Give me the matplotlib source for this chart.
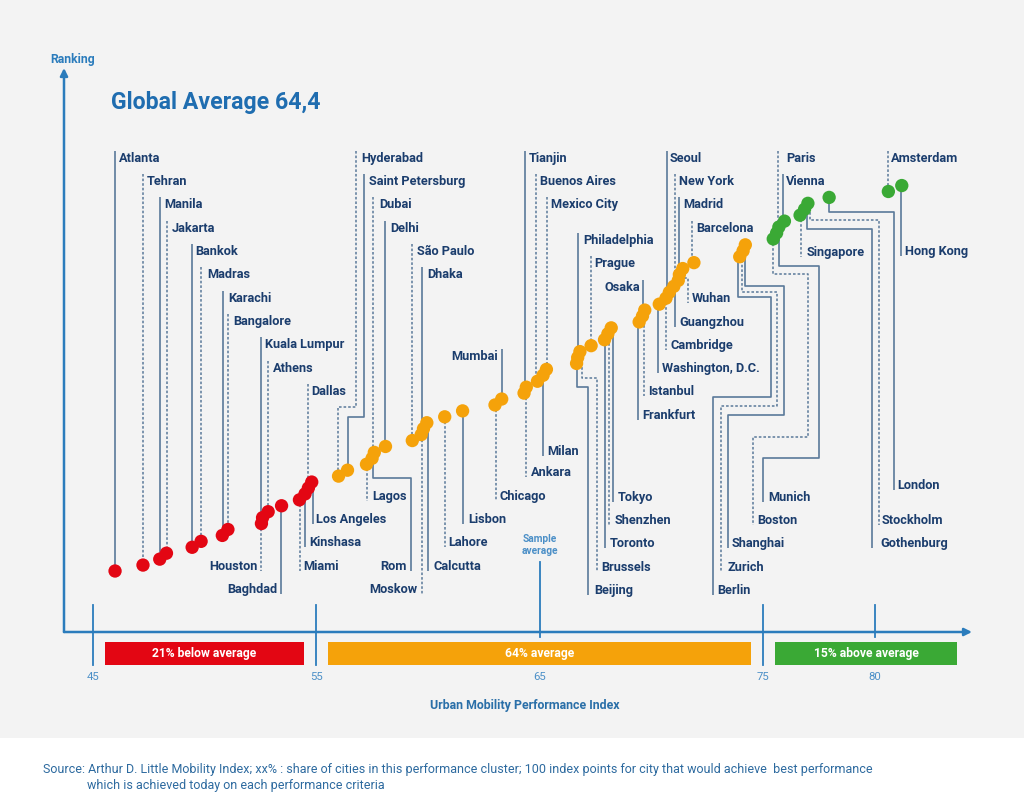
import numpy as np
import matplotlib
matplotlib.use("Agg")
import matplotlib.pyplot as plt
from matplotlib import font_manager as fm
from matplotlib.patches import Rectangle

# ---------------- data ----------------
cities = ["Atlanta", "Tehran", "Manila", "Jakarta", "Bankok", "Madras", "Karachi", "Bangalore",
          "Houston", "Kuala Lumpur", "Athens", "Baghdad", "Miami", "Kinshasa", "Los Angeles", "Dallas",
          "Hyderabad", "Saint Petersburg", "Lagos", "Rom", "Dubai", "Delhi", "São Paulo", "Moskow",
          "Dhaka", "Calcutta", "Lahore", "Lisbon", "Chicago", "Mumbai", "Ankara", "Tianjin",
          "Buenos Aires", "Milan", "Mexico City", "Beijing", "Brussels", "Philadelphia", "Prague",
          "Toronto", "Shenzhen", "Tokyo", "Frankfurt", "Istanbul", "Osaka", "Washington, D.C.",
          "Cambridge", "Seoul", "Guangzhou", "Wuhan", "New York", "Madrid", "Barcelona",
          "Berlin", "Zurich", "Shanghai",
          "Boston", "Munich", "Paris", "Vienna", "Singapore", "Gothenburg", "Stockholm", "London",
          "Amsterdam", "Hong Kong"]
scores = [46.0, 47.25, 48.0, 48.3, 49.45, 49.85, 50.8, 51.05,
          52.55, 52.6, 52.85, 53.45, 54.25, 54.5, 54.65, 54.8,
          56.0, 56.4, 57.25, 57.5, 57.6, 58.1, 59.3, 59.7,
          59.8, 59.95, 60.75, 61.55, 63.0, 63.3, 64.3, 64.4,
          64.9, 65.15, 65.3, 66.65, 66.7, 66.8, 67.3,
          67.9, 68.05, 68.2, 69.45, 69.6, 69.7, 70.35,
          70.65, 70.8, 71.0, 71.2, 71.25, 71.4, 71.9,
          73.95, 74.1, 74.2,
          75.45, 75.6, 75.7, 75.95, 76.65, 76.85, 77.0, 77.95,
          80.6, 81.2]
ranks = np.arange(1, len(cities) + 1)

cluster_edges = [45, 55, 75, 84.2]
cluster_labels = ["21% below average", "64% average", "15% above average"]
cluster_colors = ["#e30613", "#f5a20a", "#3aa935"]
tick_values = [45, 55, 65, 75, 80]
tick_labels = ["45", "55", "65", "75", "80"]
sample_average = 65
title_text = "Global Average 64,4"
source_lines = ["Source: Arthur D. Little Mobility Index; xx% : share of cities in this performance cluster; "
                "100 index points for city that would achieve  best performance",
                "which is achieved today on each performance criteria"]

# ---------------- layout (pixel grid of the 1024x797 canvas) ----------------
# side ('T' label above dot / 'B' below), line style, text x, text y, ha, corner points
S, D = "-", ":"
N = None
LAYOUT = {
    "Atlanta": ("T", S, 119, 157, "left", [(115, N)]),
    "Tehran": ("T", D, 147, 180, "left", [(143, N)]),
    "Manila": ("T", S, 164, 203, "left", [(160, N)]),
    "Jakarta": ("T", D, 172, 227, "left", [(167, N)]),
    "Bankok": ("T", S, 195, 250, "left", [(192, N)]),
    "Madras": ("T", D, 207, 273, "left", [(201, N)]),
    "Karachi": ("T", S, 228, 297, "left", [(223, N)]),
    "Bangalore": ("T", D, 233, 320, "left", [(228, N)]),
    "Houston": ("B", D, 258, 565, "right", [(261, N)]),
    "Kuala Lumpur": ("T", S, 265, 343, "left", [(261, N)]),
    "Athens": ("T", D, 273, 367, "left", [(268, N)]),
    "Baghdad": ("B", S, 277, 588, "right", [(281, N)]),
    "Miami": ("B", D, 303, 565, "left", [(300, N)]),
    "Kinshasa": ("B", S, 309, 541, "left", [(305, N)]),
    "Los Angeles": ("B", S, 316, 518, "left", [(313, N)]),
    "Dallas": ("T", D, 311, 390, "left", [(308, N)]),
    "Hyderabad": ("T", D, 361, 157, "left", [(356, 407), (338, 407)]),
    "Saint Petersburg": ("T", S, 369, 180, "left", [(364, 417), (348, 417)]),
    "Lagos": ("B", D, 372, 495, "left", [(367, N)]),
    "Rom": ("B", S, 407, 565, "right", [(373, 478), (411, 478)]),
    "Dubai": ("T", D, 379, 203, "left", [(373, N)]),
    "Delhi": ("T", S, 390, 227, "left", [(385, N)]),
    "São Paulo": ("T", D, 417, 250, "left", [(412, N)]),
    "Moskow": ("B", D, 417, 588, "right", [(422, N)]),
    "Dhaka": ("T", S, 427, 273, "left", [(422, N)]),
    "Calcutta": ("B", S, 433, 565, "left", [(428, N)]),
    "Lahore": ("B", D, 448, 541, "left", [(445, N)]),
    "Lisbon": ("B", S, 468, 518, "left", [(463, N)]),
    "Chicago": ("B", D, 500, 495, "left", [(496, N)]),
    "Mumbai": ("T", S, 498, 355, "right", [(502, N)]),
    "Ankara": ("B", D, 531, 471, "left", [(526, N)]),
    "Tianjin": ("T", S, 529, 157, "left", [(525, N)]),
    "Buenos Aires": ("T", D, 540, 180, "left", [(536, N)]),
    "Milan": ("B", S, 547, 450, "left", [(543, N)]),
    "Mexico City": ("T", D, 551, 203, "left", [(547, N)]),
    "Beijing": ("B", S, 594, 589, "left", [(577, 387), (588, 387)]),
    "Brussels": ("B", D, 601, 566, "left", [(582, 378), (597, 378)]),
    "Philadelphia": ("T", S, 583, 239, "left", [(578, N)]),
    "Prague": ("T", D, 594, 262, "left", [(591, N)]),
    "Toronto": ("B", S, 610, 542, "left", [(605, N)]),
    "Shenzhen": ("B", D, 615, 519, "left", [(609, N)]),
    "Tokyo": ("B", S, 618, 496, "left", [(613, N)]),
    "Frankfurt": ("B", S, 642, 414, "left", [(638, N)]),
    "Istanbul": ("B", D, 648, 390, "left", [(644, N)]),
    "Osaka": ("T", S, 640, 286, "right", [(643, N)]),
    "Washington, D.C.": ("B", S, 662, 367, "left", [(658, N)]),
    "Cambridge": ("B", D, 671, 344, "left", [(666, N)]),
    "Seoul": ("T", S, 670, 157, "left", [(667, N)]),
    "Guangzhou": ("B", S, 679, 321, "left", [(675, N)]),
    "Wuhan": ("B", D, 692, 297, "left", [(677, 278), (688, 278)]),
    "New York": ("T", D, 679, 180, "left", [(675, N)]),
    "Madrid": ("T", S, 683, 203, "left", [(679, N)]),
    "Barcelona": ("T", D, 696, 227, "left", [(692, N)]),
    "Berlin": ("B", S, 717, 589, "left", [(738, 297), (771, 297), (771, 397), (713, 397)]),
    "Zurich": ("B", D, 727, 566, "left", [(742, 292), (777, 292), (777, 406), (721, 406)]),
    "Shanghai": ("B", S, 732, 542, "left", [(745, 286), (784, 286), (784, 415), (728, 415)]),
    "Boston": ("B", D, 757, 519, "left", [(773, 274), (808, 274), (808, 437), (753, 437)]),
    "Munich": ("B", S, 768, 496, "left", [(779, 266), (819, 266), (819, 458), (763, 458)]),
    "Paris": ("T", D, 786, 157, "left", [(778, N)]),
    "Vienna": ("T", S, 786, 180, "left", [(783, N)]),
    "Singapore": ("B", D, 807, 251, "left", [(801, N)]),
    "Gothenburg": ("B", S, 880, 542, "left", [(807, 229), (872, 229)]),
    "Stockholm": ("B", D, 882, 519, "left", [(810, 220), (879, 220)]),
    "London": ("B", S, 897, 484, "left", [(829, 212), (894, 212)]),
    "Amsterdam": ("T", D, 891, 157, "left", [(888, N)]),
    "Hong Kong": ("B", S, 905, 250, "left", [(901, N)]),
}

# pixel -> data conversions (x: index score, y: ranking)
X45_PX, PX_PER_POINT = 92.7, 22.35
RANK1_PX, PX_PER_RANK = 571.0, 5.93
W, H = 1024, 797


def sx(px):
    return 45 + (px - X45_PX) / PX_PER_POINT


def ry(py):
    return 1 + (RANK1_PX - py) / PX_PER_RANK


# ---------------- fonts & colours ----------------
def font_ok(name):
    try:
        fm.findfont(fm.FontProperties(family=name), fallback_to_default=False)
        return True
    except Exception:
        return False


FONT = "Roboto" if font_ok("Roboto") else "DejaVu Sans"
plt.rcParams["font.family"] = [FONT, "DejaVu Sans"]

LABEL_C = "#1b3d6d"
LEADER_C = "#5a7999"
AXIS_C = "#2b7cbc"
TITLE_C = "#1f6db0"
TICK_C = "#4b8fc7"
BG = "#f3f3f3"

fig = plt.figure(figsize=(W / 100, H / 100), dpi=100, facecolor="white")
ax = fig.add_axes([0, 0, 1, 1])
ax.set_xlim(sx(0), sx(W))
ax.set_ylim(ry(H), ry(0))
ax.axis("off")

# grey chart background
ax.add_patch(Rectangle((sx(0), ry(738)), sx(W) - sx(0), ry(0) - ry(738),
                       facecolor=BG, edgecolor="none", zorder=0))


def color_for(s):
    for k in range(3):
        if s < cluster_edges[k + 1]:
            return cluster_colors[k]
    return cluster_colors[-1]


dot_colors = [color_for(s) for s in scores]

# leader lines and labels
for i, city in enumerate(cities):
    side, ls, tx, ty, ha, corners = LAYOUT[city]
    pts = [(sx(x), ry(y)) for x, y in corners if y is not None]
    if side == "T":
        start = (sx(corners[0][0]), ry(ty - 6))
        end = (sx(corners[-1][0]), ranks[i])
        path = [start] + pts + [end]
    else:
        start = (sx(corners[0][0]), ranks[i])
        end = (sx(corners[-1][0]), ry(ty + 6))
        path = [start] + pts + [end]
    xs, ys = zip(*path)
    if ls == S:
        ax.plot(xs, ys, color=LEADER_C, lw=1.2, solid_capstyle="butt", zorder=2)
    else:
        ax.plot(xs, ys, color=LEADER_C, lw=1.1, linestyle=(0, (1.7, 1.3)), zorder=2)
    ax.text(sx(tx), ry(ty + 4.6), city, ha=ha, va="baseline", fontsize=9.2,
            fontweight="bold", color=LABEL_C, zorder=4)

# dots
ax.scatter(scores, ranks, s=92, c=dot_colors, edgecolors="none", zorder=3)

# axes arrows
y_axis = ry(632)
x_axis_left = sx(64)
ax.annotate("", xy=(sx(972), y_axis), xytext=(x_axis_left, y_axis),
            arrowprops=dict(arrowstyle="-|>", color=AXIS_C, lw=1.8, mutation_scale=11,
                            shrinkA=0, shrinkB=0), zorder=3)
ax.annotate("", xy=(x_axis_left, ry(68)), xytext=(x_axis_left, y_axis),
            arrowprops=dict(arrowstyle="-|>", color=AXIS_C, lw=1.8, mutation_scale=11,
                            shrinkA=0, shrinkB=0), zorder=3)
ax.text(sx(50), ry(60), "Ranking", ha="left", va="center", fontsize=8.8,
        fontweight="bold", color=AXIS_C)

# ticks
for v, lab in zip(tick_values, tick_labels):
    if v == sample_average:
        top, bot = 562, 637
    elif v == tick_values[-1]:
        top, bot = 605, 637
    else:
        top, bot = 605, 665
    ax.plot([v, v], [ry(top), ry(bot)], color=AXIS_C, lw=1.3, zorder=2)
    ax.text(v, ry(677), lab, ha="center", va="center", fontsize=8.2, color=TICK_C)

ax.text(sample_average, ry(545), "Sample\naverage", ha="center", va="center",
        fontsize=7.3, fontweight="bold", color=TICK_C, linespacing=1.15)

# cluster bars
bar_h = (665 - 642) / PX_PER_RANK
bar_c = ry(653.5)
pad = 0.55
for k in range(3):
    lo, hi = cluster_edges[k] + pad, cluster_edges[k + 1] - pad
    ax.barh(bar_c, hi - lo, left=lo, height=bar_h, color=cluster_colors[k],
            edgecolor="none", zorder=2)
    ax.text((lo + hi) / 2, bar_c, cluster_labels[k], ha="center", va="center",
            fontsize=8.7, fontweight="bold", color="white", zorder=3)

ax.text(sx(525), ry(706), "Urban Mobility Performance Index", ha="center", va="center",
        fontsize=8.9, fontweight="bold", color="#2a6fa8")

# title
ax.text(sx(111), ry(102), title_text, ha="left", va="center", fontsize=16.7,
        fontweight="bold", color=TITLE_C)

# source
ax.text(sx(43), ry(770), source_lines[0], ha="left", va="center", fontsize=9.0,
        color="#2d6a9f")
ax.text(sx(87), ry(786), source_lines[1], ha="left", va="center", fontsize=9.0,
        color="#2d6a9f")

fig.savefig("out.png", dpi=100, facecolor="white")
